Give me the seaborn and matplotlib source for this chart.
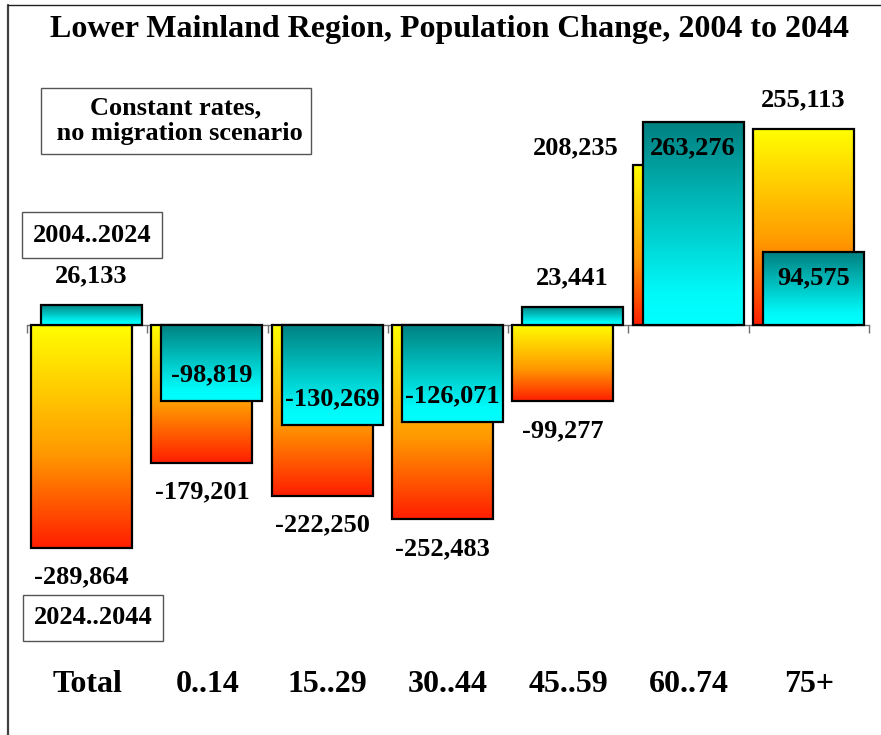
import numpy as np
import pandas as pd
import matplotlib
matplotlib.use("Agg")
import matplotlib.pyplot as plt
import matplotlib.transforms as mtransforms
import seaborn as sns
from matplotlib.colors import LinearSegmentedColormap
from matplotlib.lines import Line2D

# ---------------- data ----------------
categories = ["Total", "0..14", "15..29", "30..44", "45..59", "60..74", "75+"]
change_2004_2024 = [26133, -98819, -130269, -126071, 23441, 263276, 94575]
change_2024_2044 = [-289864, -179201, -222250, -252483, -99277, 208235, 255113]
series_labels = ["2004..2024", "2024..2044"]
title = "Lower Mainland Region, Population Change, 2004 to 2044"
scenario_note = "Constant rates,\n no migration scenario"

# ---------------- layout / style ----------------
W, H, DPI = 881, 735, 100
sns.set_theme(style="white")
plt.rcParams["font.family"] = ["Liberation Serif", "DejaVu Serif"]
plt.rcParams["font.weight"] = "bold"
plt.rcParams["text.color"] = "black"

fig = plt.figure(figsize=(W / DPI, H / DPI), dpi=DPI)
fig.patch.set_facecolor("white")
AX_TOP, AX_BOT = 60, 640
ax = fig.add_axes([27 / W, (H - AX_BOT) / H, 842 / W, (AX_BOT - AX_TOP) / H])
ax.set_facecolor("none")
PX_PER_UNIT = 0.00077
ZERO_PX = 325
YMAX = (ZERO_PX - AX_TOP) / PX_PER_UNIT
YMIN = -(AX_BOT - ZERO_PX) / PX_PER_UNIT

df = pd.DataFrame({"age": categories,
                   "s2024": change_2004_2024,
                   "s2044": change_2024_2044})

BAR_W = 0.84
sns.barplot(data=df, x="age", y="s2044", order=categories, width=BAR_W,
            color="#FFFF00", saturation=1, errorbar=None, ax=ax)
n_back = len(ax.patches)
sns.barplot(data=df, x="age", y="s2024", order=categories, width=BAR_W,
            color="#00FFFF", saturation=1, errorbar=None, ax=ax)
back = list(ax.patches[:n_back])
front = list(ax.patches[n_back:])

cmap_warm = LinearSegmentedColormap.from_list(
    "warm", [(0.0, "#FF1E00"), (0.42, "#FF9900"), (1.0, "#FFFF00")])
cmap_cool = LinearSegmentedColormap.from_list(
    "cool", [(0.0, "#00FFFF"), (0.15, "#00FAFA"), (1.0, "#008080")])

grad = np.linspace(0, 1, 256).reshape(-1, 1)


def gradient_fill(patch, cmap, z):
    x0, w = patch.get_x(), patch.get_width()
    y0, h = patch.get_y(), patch.get_height()
    lo, hi = min(y0, y0 + h), max(y0, y0 + h)
    im = ax.imshow(grad, cmap=cmap, origin="lower", aspect="auto",
                   extent=[x0, x0 + w, lo, hi], zorder=z,
                   interpolation="bilinear")
    im.set_clip_path(patch)


for p in back:
    p.set_x(p.get_x() - 0.046)
    p.set_facecolor("none")
    p.set_edgecolor("black")
    p.set_linewidth(1.6)
    p.set_zorder(2)
    gradient_fill(p, cmap_warm, 1.5)

for p in front:
    p.set_x(p.get_x() + 0.037)
    p.set_facecolor("none")
    p.set_edgecolor("black")
    p.set_linewidth(1.6)
    p.set_zorder(4)
    gradient_fill(p, cmap_cool, 3.5)

ax.set_xlim(-0.5, len(categories) - 0.5)
ax.set_ylim(YMIN, YMAX)

# axes styling
for s in ["top", "right", "left"]:
    ax.spines[s].set_visible(False)
ax.spines["bottom"].set_position(("data", 0))
ax.spines["bottom"].set_color("#707070")
ax.spines["bottom"].set_linewidth(1)
ax.spines["bottom"].set_zorder(1)
ax.set_yticks([])
ax.set_xticks(range(len(categories)))
ax.set_xticklabels([""] * len(categories))
ax.set_xticks(np.arange(-0.5, len(categories)), minor=True)
ax.tick_params(axis="x", which="major", length=0, bottom=False)
ax.tick_params(axis="x", which="minor", bottom=True, length=6, width=1,
               color="#707070", direction="out")
ax.set_xlabel("")
ax.set_ylabel("")

# category labels
trans = mtransforms.blended_transform_factory(ax.transData, ax.transAxes)
for i, c in enumerate(categories):
    ax.text(i, (AX_BOT - 685) / (AX_BOT - AX_TOP), c, transform=trans,
            ha="center", va="center", fontsize=23, fontweight="bold",
            color="black")

# value labels
VAL_FS = 19


def value_label(patch, value, mode, dx=0, dy=None):
    cx = patch.get_x() + patch.get_width() / 2
    end = patch.get_y() + patch.get_height()
    sgn = 1 if value >= 0 else -1
    if dy is None:
        dy = sgn * 29 if mode == "out" else -sgn * 26
    ax.annotate(f"{value:,}", (cx, end), xytext=(dx, dy),
                textcoords="offset pixels", ha="center", va="center",
                fontsize=VAL_FS, fontweight="bold", zorder=6,
                color="black", annotation_clip=False)


back_modes = ["out"] * 7
front_modes = ["out", "in", "in", "in", "out", "in", "in"]
for i, (p, v) in enumerate(zip(back, change_2024_2044)):
    if categories[i] == "60..74":
        value_label(p, v, "out", dx=-107, dy=17)
    else:
        value_label(p, v, back_modes[i])
for i, (p, v) in enumerate(zip(front, change_2004_2024)):
    value_label(p, v, front_modes[i])

# title
fig.text(449 / W, 1 - 30 / H, title, ha="center", va="center",
         fontsize=23, fontweight="bold", color="black")

# boxes
box = dict(boxstyle="square,pad=0.33", fc="white", ec="#555555", lw=1)
box2 = dict(boxstyle="square,pad=0.42", fc="white", ec="#555555", lw=1)
fig.text(176 / W, 1 - 121 / H, scenario_note, ha="center", va="center",
         fontsize=19, fontweight="bold", bbox=box, linespacing=1.15,
         color="black")
fig.text(92 / W, 1 - 235 / H, series_labels[0], ha="center", va="center",
         fontsize=19, fontweight="bold", bbox=box2, color="black")
fig.text(93 / W, 1 - 618 / H, series_labels[1], ha="center", va="center",
         fontsize=19, fontweight="bold", bbox=box2, color="black")

# outer frame lines (left and top)
fig.add_artist(Line2D([8 / W, 8 / W], [0, 1 - 5 / H], color="#404040",
                      lw=1.6, transform=fig.transFigure))
fig.add_artist(Line2D([8 / W, 1], [1 - 5 / H, 1 - 5 / H], color="#202020",
                      lw=1.0, transform=fig.transFigure))

fig.savefig("out.png", dpi=DPI, facecolor="white")
